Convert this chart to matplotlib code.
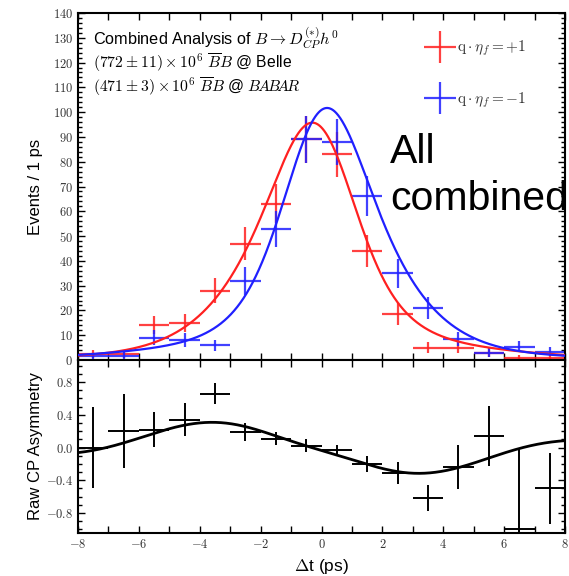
import numpy as np
import matplotlib
matplotlib.use("Agg")
import matplotlib.pyplot as plt
from matplotlib.ticker import MultipleLocator, FuncFormatter
from matplotlib.container import ErrorbarContainer
from matplotlib.legend_handler import HandlerErrorbar

plt.rcParams['font.family'] = ['Liberation Sans', 'DejaVu Sans']
plt.rcParams['mathtext.fontset'] = 'cm'

# ---------------- data ----------------
bin_centers = [-7.5, -6.5, -5.5, -4.5, -3.5, -2.5, -1.5, -0.5,
               0.5, 1.5, 2.5, 3.5, 4.5, 5.5, 6.5, 7.5]
bin_half_width = [0.5] * 16

red_counts = [2.5, 2.5, 14, 15, 28, 47, 63, 89, 83, 44, 18.5, 5, 5, 3, 1, 1]
red_err = [1.6, 1.6, 3.7, 3.6, 5.0, 6.7, 7.9, 9.4, 9.1, 6.6, 4.3, 2.2, 2.2, 1.7, 1.0, 1.0]
blue_counts = [1.5, 1.8, 9, 8, 6, 32, 53, 89, 88, 66, 35, 21, 8.5, 3, 5.4, 3.4]
blue_err = [1.2, 1.3, 3.0, 2.8, 2.2, 5.7, 7.3, 9.4, 9.4, 8.1, 5.9, 4.6, 2.9, 1.7, 2.3, 1.8]

asym_values = [0.0, 0.20, 0.22, 0.34, 0.66, 0.19, 0.11, 0.02,
               -0.03, -0.20, -0.31, -0.62, -0.24, 0.14, -1.0, -0.50]
asym_err = [0.50, 0.45, 0.21, 0.20, 0.13, 0.11, 0.08, 0.08,
            0.06, 0.10, 0.13, 0.16, 0.27, 0.37, 1.0, 0.43]

legend_labels = [r'$\mathrm{q}\cdot\eta_f=+1$', r'$\mathrm{q}\cdot\eta_f=-1$']
x_ticks_labels = [-8, -6, -4, -2, 0, 2, 4, 6, 8]

# fit-model parameters (effective)
tau = 1.45          # ps
sigma_res = 0.9     # ps, resolution
t_shift = -0.05     # ps
sig_peak = 94.5
bkg_peak = 2.9
bkg_width = 6.0
S_eff = 0.40
omega_eff = 0.50
t0_osc = -0.22

# ---------------- model curves ----------------
t = np.linspace(-16, 16, 6401)
dec = np.exp(-np.abs(t - t_shift) / tau)
osc = dec * np.sin(omega_eff * (t - t0_osc))
kern = np.exp(-0.5 * (t / sigma_res) ** 2)
kern /= kern.sum()
D = np.convolve(dec, kern, mode='same')
O = np.convolve(osc, kern, mode='same')
norm = sig_peak / D.max()
bkg = bkg_peak * np.exp(-0.5 * (t / bkg_width) ** 2)
n_plus = norm * (D - S_eff * O) + bkg
n_minus = norm * (D + S_eff * O) + bkg
asym_curve = (n_plus - n_minus) / (n_plus + n_minus)
m = (t >= -8) & (t <= 8)

# ---------------- figure ----------------
fig = plt.figure(figsize=(5.69, 5.76), dpi=100)
L, W = 78 / 569, 487 / 569
ax1 = fig.add_axes([L, 216 / 576, W, 347 / 576])
ax2 = fig.add_axes([L, 43 / 576, W, 173 / 576])

RED = '#ff2020'
BLUE = '#2020ff'

e1 = ax1.errorbar(bin_centers, red_counts, xerr=bin_half_width, yerr=red_err,
                  fmt='none', ecolor=RED, elinewidth=1.6, capsize=0, alpha=0.85,
                  label=legend_labels[0])
e2 = ax1.errorbar(bin_centers, blue_counts, xerr=bin_half_width, yerr=blue_err,
                  fmt='none', ecolor=BLUE, elinewidth=1.6, capsize=0, alpha=0.85,
                  label=legend_labels[1])
ax1.plot(t[m], n_plus[m], color=RED, lw=1.6, zorder=3)
ax1.plot(t[m], n_minus[m], color=BLUE, lw=1.6, zorder=3)

ax1.set_xlim(-8, 8)
ax1.set_ylim(0, 140)

ax2.errorbar(bin_centers, asym_values, xerr=bin_half_width, yerr=asym_err,
             fmt='none', ecolor='black', elinewidth=1.4, capsize=0)
ax2.plot(t[m], asym_curve[m], color='black', lw=2.0, zorder=3)
ax2.set_xlim(-8, 8)
ax2.set_ylim(-1.045, 1.07)

tick_col = '#333333'
for ax in (ax1, ax2):
    for sp in ax.spines.values():
        sp.set_linewidth(1.5)
    ax.xaxis.set_major_locator(MultipleLocator(1))
    ax.tick_params(which='both', direction='in', top=True, right=True,
                   labelsize=9, labelcolor=tick_col, width=1.0)
    ax.tick_params(which='major', length=5)
    ax.tick_params(which='minor', length=3)

ax1.yaxis.set_major_locator(MultipleLocator(10))
ax1.yaxis.set_minor_locator(MultipleLocator(2))
ax1.yaxis.set_major_formatter(FuncFormatter(lambda v, p: f'${v:.0f}$'))
ax1.tick_params(axis='x', labelbottom=False)

ax2.yaxis.set_major_locator(MultipleLocator(0.4))
ax2.yaxis.set_minor_locator(MultipleLocator(0.1))
ax2.yaxis.set_major_formatter(FuncFormatter(
    lambda v, p: f'${v:.1f}$' if abs(v) < 0.95 else ''))


def xfmt(v, p):
    iv = int(round(v))
    return f'${iv}$' if iv in x_ticks_labels else ''


ax2.xaxis.set_major_formatter(FuncFormatter(xfmt))

ax1.set_ylabel('Events / 1 ps', fontsize=12)
ax1.yaxis.set_label_coords(-0.072, 0.5)
ax2.set_ylabel('Raw CP Asymmetry', fontsize=12)
ax2.yaxis.set_label_coords(-0.072, 0.5)
ax2.set_xlabel(r'$\Delta$t (ps)', fontsize=12.5)
ax2.xaxis.set_label_coords(0.5, -0.14)

# annotations
ax1.text(0.031, 0.928, r'Combined Analysis of $B\to D^{(*)}_{CP}h^0$',
         transform=ax1.transAxes, fontsize=11.7, va='center', ha='left')
ax1.text(0.031, 0.856, r'$(772\pm11)\times10^6\ \overline{B}B$ @ Belle',
         transform=ax1.transAxes, fontsize=11.3, va='center', ha='left')
ax1.text(0.031, 0.787, r'$(471\pm3)\times10^6\ \overline{B}B$ @ $\mathit{B\!A\!B\!A\!R}$',
         transform=ax1.transAxes, fontsize=11.3, va='center', ha='left')
ax1.text(0.641, 0.655, 'All\ncombined', transform=ax1.transAxes,
         fontsize=29.5, va='top', ha='left', linespacing=1.3,
         family=['Liberation Sans', 'DejaVu Sans'])

leg = ax1.legend(handles=[e1, e2], loc='upper left',
                 bbox_to_anchor=((424 - 78) / 487, (360 - 39) / 347),
                 frameon=False, fontsize=11, handlelength=2.1,
                 handletextpad=0.05, labelspacing=2.1, borderpad=0,
                 borderaxespad=0,
                 handler_map={ErrorbarContainer: HandlerErrorbar(xerr_size=1.05,
                                                                 yerr_size=1.05)})
for txt in leg.get_texts():
    txt.set_color('#333333')

fig.savefig('out.png', dpi=100)
